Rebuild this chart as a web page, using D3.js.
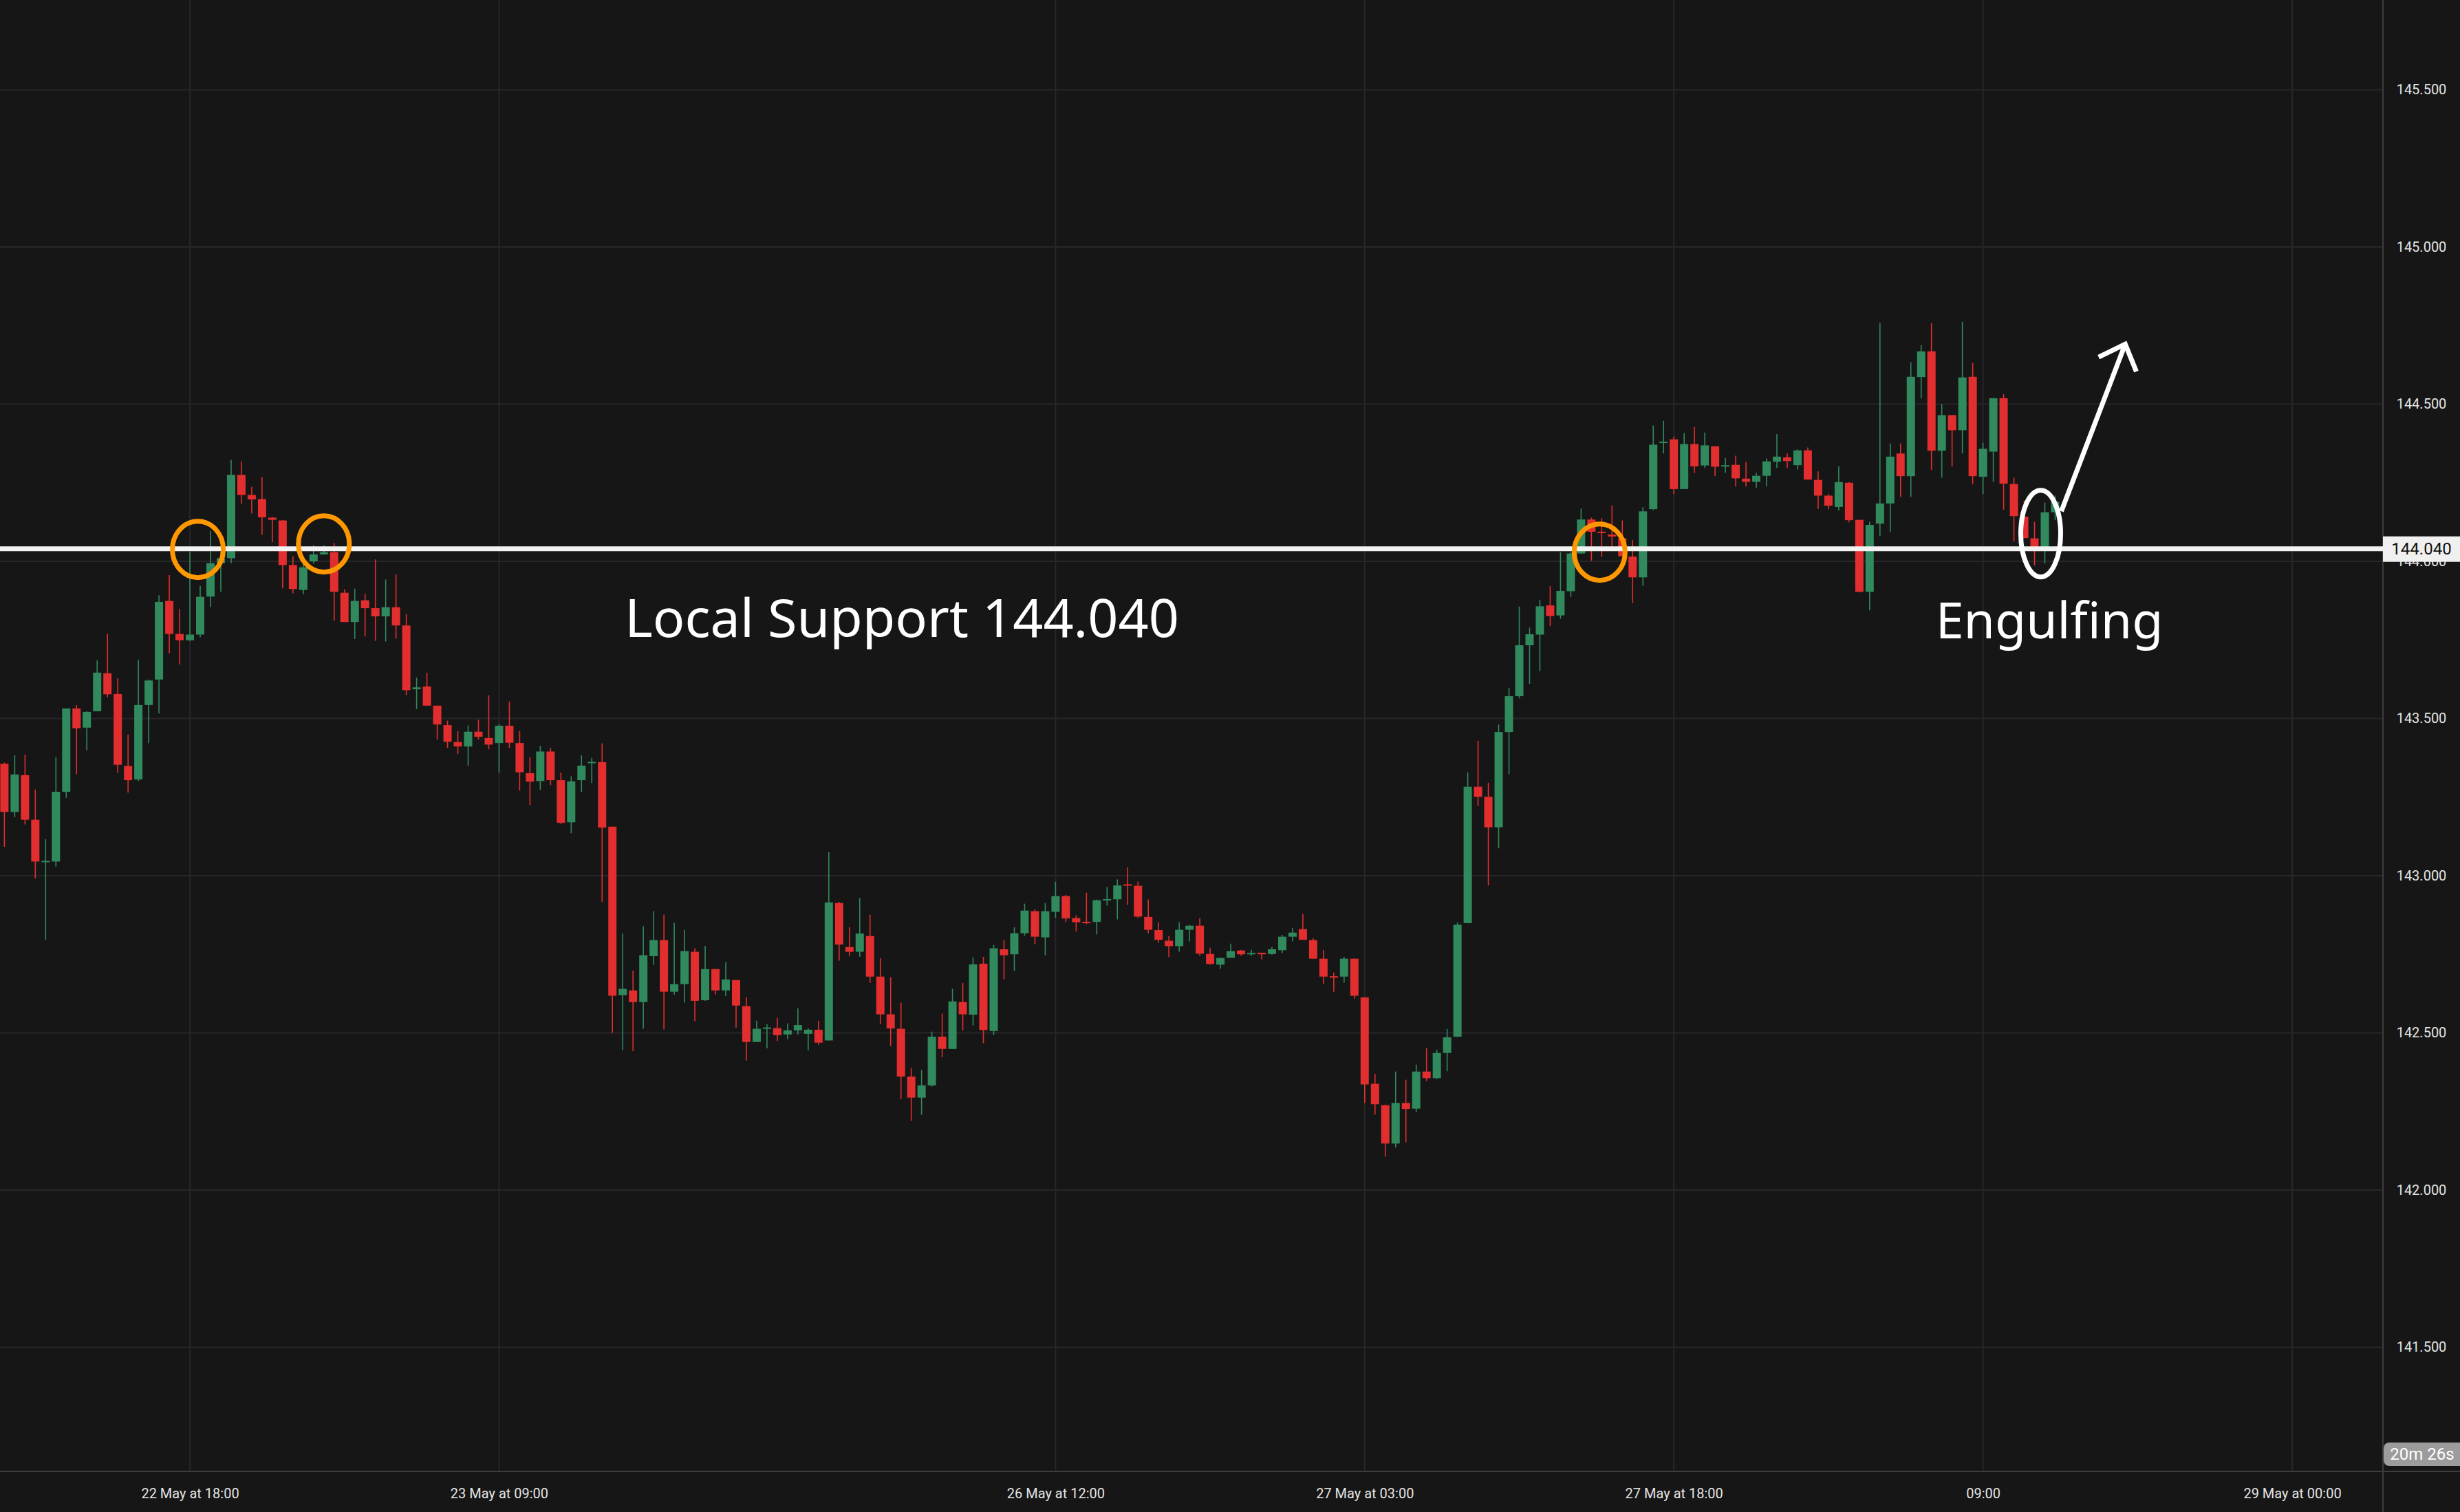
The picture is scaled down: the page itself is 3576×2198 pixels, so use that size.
<!DOCTYPE html>
<html><head><meta charset="utf-8">
<script src="https://cdn.jsdelivr.net/npm/d3@7/dist/d3.min.js"></script>
<style>html,body{margin:0;padding:0;background:#161616;overflow:hidden}</style>
</head><body><svg id="c" width="3576" height="2198"></svg>
<script>
// 30-minute candles, index 0 = 22 May 09:00
const openP=[143.356,143.203,143.320,143.178,143.044,143.045,143.267,143.532,143.471,143.523,143.644,143.578,143.349,143.306,143.543,143.624,143.874,143.769,143.749,143.767,
143.888,143.994,144.010,144.275,144.211,144.198,144.139,144.130,143.988,143.909,144.000,144.022,144.029,143.900,143.807,143.876,143.851,143.825,143.854,143.796,
143.593,143.602,143.541,143.479,143.425,143.411,143.458,143.438,143.422,143.477,143.422,143.326,143.301,143.395,143.304,143.170,143.304,143.359,143.361,143.156,
142.620,142.635,142.598,142.744,142.795,142.631,142.655,142.758,142.604,142.703,142.635,142.668,142.585,142.471,142.514,142.515,142.495,142.508,142.497,142.510,
142.476,142.913,142.773,142.758,142.808,142.679,142.559,142.513,142.361,142.294,142.333,142.488,142.449,142.598,142.558,142.720,142.506,142.766,142.750,142.817,
142.887,142.804,142.885,142.935,142.865,142.852,142.853,142.923,142.925,142.972,142.968,142.869,142.827,142.793,142.776,142.828,142.841,142.751,142.717,142.739,
142.762,142.751,142.755,142.751,142.763,142.806,142.830,142.795,142.736,142.679,142.679,142.736,142.613,142.338,142.270,142.148,142.277,142.259,142.377,142.356,
142.436,142.488,142.849,143.283,143.251,143.154,143.457,143.571,143.733,143.767,143.860,143.828,143.905,144.025,144.133,144.094,144.085,144.074,144.015,143.949,
144.166,144.378,144.388,144.230,144.373,144.305,144.366,144.302,144.307,144.263,144.253,144.272,144.317,144.331,144.306,144.353,144.259,144.209,144.173,144.250,
144.132,143.903,144.120,144.184,144.343,144.271,144.586,144.668,144.352,144.465,144.417,144.587,144.269,144.349,144.519,144.246,144.142,144.073,144.040,144.156];
const highP=[143.360,143.383,143.385,143.274,143.116,143.377,143.532,143.543,143.523,143.685,143.769,143.628,143.449,143.687,143.624,143.892,143.956,143.849,144.030,143.922,
144.097,144.030,144.323,144.318,144.237,144.268,144.141,144.132,144.016,144.007,144.051,144.051,144.058,143.911,143.913,143.896,144.006,143.942,143.958,143.832,
143.630,143.646,143.541,143.493,143.460,143.478,143.496,143.574,143.482,143.554,143.460,143.377,143.413,143.406,143.328,143.316,143.383,143.375,143.421,143.156,
142.816,142.698,142.839,142.887,142.876,142.850,142.828,142.769,142.777,142.703,142.725,142.668,142.613,142.539,142.528,142.548,142.530,142.578,142.515,142.539,
143.075,142.917,142.836,142.929,142.876,142.738,142.677,142.596,142.388,142.382,142.504,142.561,142.640,142.659,142.740,142.742,142.780,142.795,142.836,142.911,
142.893,142.913,142.981,142.939,142.874,142.946,142.924,142.964,142.988,143.027,142.981,142.924,142.852,142.808,142.852,142.843,142.865,142.771,142.740,142.784,
142.764,142.764,142.755,142.773,142.812,142.834,142.878,142.801,142.764,142.692,142.742,142.736,142.613,142.370,142.272,142.377,142.351,142.399,142.451,142.446,
142.512,142.851,143.329,143.429,143.296,143.481,143.597,143.856,143.789,143.877,143.921,144.029,144.029,144.168,144.139,144.137,144.178,144.130,144.068,144.172,
144.432,144.447,144.397,144.408,144.427,144.410,144.366,144.329,144.336,144.316,144.281,144.327,144.405,144.343,144.356,144.362,144.286,144.214,144.302,144.252,
144.132,144.126,144.758,144.375,144.375,144.633,144.688,144.758,144.500,144.465,144.762,144.631,144.377,144.519,144.532,144.266,144.193,144.126,144.187,144.209];
const lowP=[143.092,143.186,143.163,142.991,142.796,143.029,143.248,143.323,143.399,143.523,143.568,143.327,143.264,143.301,143.422,143.516,143.707,143.672,143.746,143.758,
143.855,143.903,143.994,144.183,144.152,144.084,144.061,143.914,143.898,143.895,143.993,144.021,143.811,143.807,143.753,143.761,143.747,143.745,143.754,143.574,
143.530,143.541,143.433,143.407,143.387,143.350,143.433,143.402,143.328,143.407,143.271,143.225,143.273,143.288,143.165,143.135,143.267,143.295,142.917,142.500,
142.445,142.442,142.513,142.716,142.511,142.622,142.596,142.537,142.602,142.622,142.617,142.517,142.412,142.471,142.451,142.474,142.480,142.495,142.445,142.462,
142.476,142.730,142.744,142.742,142.659,142.528,142.458,142.289,142.220,142.239,142.329,142.423,142.449,142.508,142.524,142.467,142.493,142.671,142.697,142.809,
142.782,142.747,142.866,142.852,142.822,142.846,142.813,142.905,142.861,142.907,142.866,142.817,142.787,142.741,142.758,142.791,142.745,142.717,142.704,142.739,
142.745,142.745,142.734,142.749,142.754,142.791,142.796,142.736,142.655,142.631,142.660,142.609,142.277,142.240,142.106,142.135,142.152,142.248,142.347,142.353,
142.378,142.486,142.849,143.222,142.969,143.087,143.323,143.564,143.610,143.651,143.794,143.817,143.887,144.025,144.002,144.014,144.041,144.016,143.867,143.922,
144.163,144.343,144.214,144.230,144.281,144.297,144.271,144.281,144.238,144.238,144.234,144.238,144.297,144.297,144.292,144.260,144.167,144.166,144.162,144.124,
143.901,143.844,144.080,144.094,144.205,144.205,144.518,144.291,144.266,144.302,144.343,144.245,144.214,144.253,144.164,144.063,144.074,143.987,143.993,144.131];
const closeP=[143.203,143.322,143.178,143.045,143.046,143.267,143.532,143.469,143.521,143.646,143.577,143.353,143.304,143.543,143.621,143.871,143.769,143.749,143.767,143.887,
143.994,144.010,144.275,144.211,144.197,144.140,144.132,143.988,143.912,143.981,144.022,144.029,143.903,143.807,143.874,143.851,143.825,143.854,143.796,143.590,
143.599,143.541,143.481,143.426,143.411,143.458,143.442,143.417,143.477,143.423,143.329,143.299,143.395,143.304,143.168,143.300,143.350,143.361,143.153,142.618,
142.640,142.598,142.747,142.795,142.631,142.655,142.760,142.602,142.703,142.635,142.670,142.587,142.471,142.513,142.516,142.493,142.508,142.525,142.510,142.469,
142.915,142.781,142.758,142.816,142.679,142.559,142.514,142.361,142.294,142.333,142.488,142.449,142.600,142.559,142.718,142.509,142.769,142.747,142.817,142.889,
142.806,142.887,142.935,142.864,142.852,142.850,142.922,142.924,142.969,142.969,142.870,142.828,142.796,142.776,142.828,142.841,142.752,142.719,142.738,142.760,
142.750,142.753,142.750,142.766,142.806,142.819,142.796,142.736,142.679,142.677,142.736,142.618,142.336,142.273,142.148,142.277,142.258,142.377,142.356,142.436,
142.486,142.844,143.283,143.251,143.154,143.457,143.571,143.733,143.768,143.857,143.826,143.906,144.025,144.133,144.094,144.090,144.079,144.016,143.949,144.159,
144.371,144.379,144.230,144.373,144.302,144.369,144.301,144.305,144.264,144.253,144.272,144.318,144.333,144.319,144.353,144.260,144.209,144.177,144.252,144.131,
143.903,144.116,144.184,144.333,144.271,144.587,144.668,144.352,144.465,144.417,144.585,144.271,144.358,144.519,144.247,144.144,144.074,144.040,144.156,144.189];

const priceTicks=[141.5,142.0,142.5,143.0,143.5,144.0,144.5,145.0,145.5];
const timeLabels=["22 May at 18:00","23 May at 09:00","26 May at 12:00","27 May at 03:00","27 May at 18:00","09:00","29 May at 00:00"];
const timeLabelIdx=[18,48,102,132,162,192,222];
const supportLevel=144.040;
const supportText="Local Support 144.040";
const patternText="Engulfing";
const touchIdx=[18.77,31.0,154.8];
const countdownText="20m 26s";

const W=3576,H=2198,plotR=3464,plotB=2139;
const svg=d3.select("#c");
svg.append("rect").attr("width",W).attr("height",H).attr("fill","#161616");

const x=d3.scaleLinear().domain([-0.427,230.81]).range([0,plotR]);
const y=d3.scaleLinear().domain([141.1050,145.7856]).range([plotB,0]);

const grid=svg.append("g");
grid.selectAll("line.h").data(priceTicks).join("line").attr("class","h")
  .attr("x1",0).attr("x2",plotR).attr("y1",d=>y(d)).attr("y2",d=>y(d))
  .attr("stroke","#27272b").attr("stroke-width",2);
grid.selectAll("line.v").data(timeLabelIdx).join("line").attr("class","v")
  .attr("x1",d=>x(d)).attr("x2",d=>x(d)).attr("y1",0).attr("y2",plotB)
  .attr("stroke","#27272b").attr("stroke-width",2);

const data=openP.map((o,i)=>({i,o,h:highP[i],l:lowP[i],c:closeP[i]}));
const GREEN="#318a5e",RED="#e22e2e";
const cg=svg.append("g");
cg.selectAll("line").data(data).join("line")
  .attr("x1",d=>x(d.i)).attr("x2",d=>x(d.i))
  .attr("y1",d=>y(d.h)).attr("y2",d=>y(d.l))
  .attr("stroke",d=>d.c>=d.o?GREEN:RED).attr("stroke-width",1.6);
cg.selectAll("rect").data(data).join("rect")
  .attr("x",d=>x(d.i)-6).attr("width",12)
  .attr("y",d=>{const t=y(Math.max(d.o,d.c)),b=y(Math.min(d.o,d.c));return b-t<2?(t+b)/2-1:t;})
  .attr("height",d=>Math.max(2,y(Math.min(d.o,d.c))-y(Math.max(d.o,d.c))))
  .attr("fill",d=>d.c>=d.o?GREEN:RED);

// axes lines
svg.append("line").attr("x1",plotR).attr("x2",plotR).attr("y1",0).attr("y2",H).attr("stroke","#3d3d3f").attr("stroke-width",2);
svg.append("line").attr("x1",0).attr("x2",W).attr("y1",plotB).attr("y2",plotB).attr("stroke","#3d3d3f").attr("stroke-width",2);

const ya=svg.append("g").attr("transform",`translate(${plotR},0)`)
  .call(d3.axisRight(y).tickValues(priceTicks).tickFormat(d3.format(".3f")).tickSize(0).tickPadding(0));
ya.select(".domain").remove();
ya.selectAll("text").attr("x",56).attr("text-anchor","middle").attr("fill","#e4e4e4")
  .style("font-family","Roboto, 'Liberation Sans', sans-serif").style("font-size","20px");

const xa=svg.append("g").attr("transform",`translate(0,${plotB})`)
  .call(d3.axisBottom(x).tickValues(timeLabelIdx).tickFormat((d,k)=>timeLabels[k]).tickSize(0).tickPadding(25));
xa.select(".domain").remove();
xa.selectAll("text").attr("fill","#e4e4e4")
  .style("font-family","Roboto, 'Liberation Sans', sans-serif").style("font-size","20px");

// support line
const ann=svg.append("g");
ann.append("line").attr("x1",0).attr("x2",plotR).attr("y1",y(supportLevel)).attr("y2",y(supportLevel))
  .attr("stroke","#f2f2f2").attr("stroke-width",7);
ann.selectAll("ellipse.t").data(touchIdx).join("ellipse").attr("class","t")
  .attr("cx",d=>x(d)).attr("cy",(d,k)=>y(supportLevel)+[1,-7,5][k])
  .attr("rx",37).attr("ry",41).attr("fill","none").attr("stroke","#ff9800").attr("stroke-width",7);
ann.append("ellipse").attr("cx",x(197.6)).attr("cy",y(144.088)).attr("rx",29).attr("ry",63)
  .attr("fill","none").attr("stroke","#ffffff").attr("stroke-width",7);
// arrow
const ax0=x(199.6),ay0=y(144.159),ax1=x(205.8),ay1=y(144.691);
const ang=Math.atan2(ay0-ay1,ax0-ax1),al=43,spread=43*Math.PI/180;
ann.append("line").attr("x1",ax0).attr("y1",ay0).attr("x2",ax1).attr("y2",ay1).attr("stroke","#fff").attr("stroke-width",7);
ann.append("path").attr("d",`M${ax1+al*Math.cos(ang-spread)},${ay1+al*Math.sin(ang-spread)}L${ax1},${ay1}L${ax1+al*Math.cos(ang+spread)},${ay1+al*Math.sin(ang+spread)}`)
  .attr("fill","none").attr("stroke","#fff").attr("stroke-width",7).attr("stroke-linejoin","miter");

ann.append("text").attr("x",x(60.2)).attr("y",926).text(supportText)
  .attr("fill","#ffffff").style("font-family","'Noto Sans', 'Open Sans', sans-serif").style("font-size","77.3px");
ann.append("text").attr("x",x(187.4)).attr("y",928).text(patternText)
  .attr("fill","#ffffff").style("font-family","'Noto Sans', 'Open Sans', sans-serif").style("font-size","73.5px");

// price label box
const pl=svg.append("g");
pl.append("rect").attr("x",plotR).attr("y",y(supportLevel)-18).attr("width",W-plotR).attr("height",37).attr("fill","#f0f0f0");
pl.append("text").attr("x",3520).attr("y",y(supportLevel)).attr("dy","0.35em").attr("text-anchor","middle")
  .text(d3.format(".3f")(supportLevel)).attr("fill","#111").style("font-family","Roboto, sans-serif").style("font-size","24px");
// countdown
pl.append("path").attr("d",`M${plotR+10},2097H${W}V2131H${plotR+10}Q${plotR+1},2131 ${plotR+1},2122V2106Q${plotR+1},2097 ${plotR+10},2097Z`).attr("fill","#9c9c9c");
pl.append("text").attr("x",3521).attr("y",2114).attr("dy","0.35em").attr("text-anchor","middle")
  .text(countdownText).attr("fill","#fff").style("font-family","Roboto, sans-serif").style("font-size","24px");
</script></body></html>
